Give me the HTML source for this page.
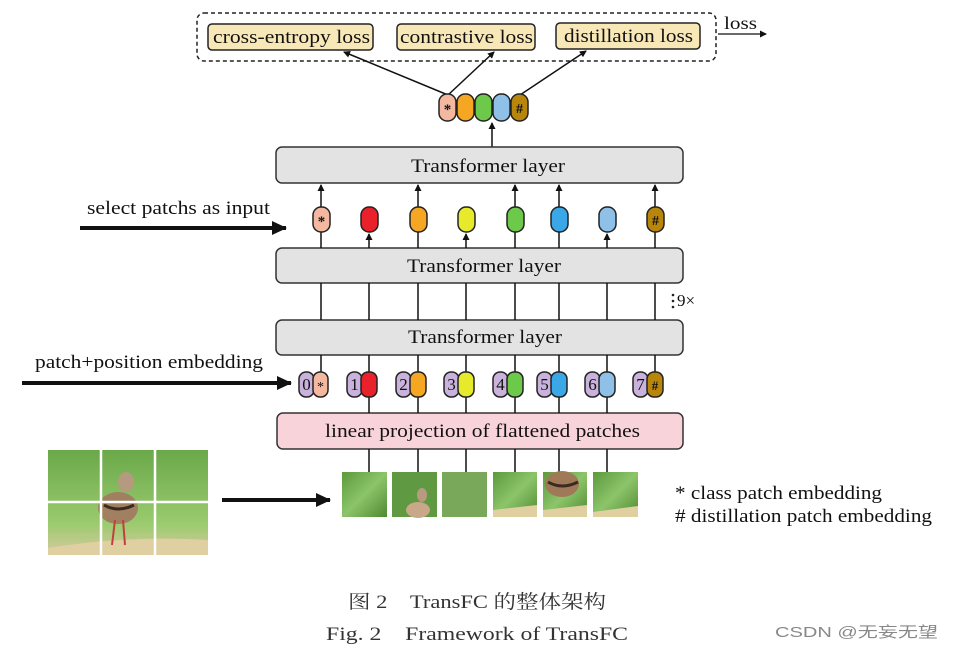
<!DOCTYPE html>
<html><head><meta charset="utf-8"><style>
body{margin:0;background:#fff;}
svg{display:block;}
text{font-family:"Liberation Serif","Noto Serif CJK SC",serif;fill:#111;}
</style></head><body>
<svg width="953" height="649" viewBox="0 0 953 649" xmlns="http://www.w3.org/2000/svg">
<defs>
<marker id="as" markerWidth="7" markerHeight="7" refX="6" refY="3.5" orient="auto" markerUnits="userSpaceOnUse"><path d="M0,0 L7,3.5 L0,7 z" fill="#111"/></marker>
<marker id="ab" markerWidth="16" markerHeight="14" refX="14" refY="7" orient="auto" markerUnits="userSpaceOnUse"><path d="M0,0 L15,7 L0,14 z" fill="#111"/></marker>
<linearGradient id="g1" x1="0" y1="0" x2="1" y2="1"><stop offset="0" stop-color="#5c9a3c"/><stop offset="0.5" stop-color="#8cc46a"/><stop offset="1" stop-color="#4f8a30"/></linearGradient>
<linearGradient id="g2" x1="0" y1="0" x2="0" y2="1"><stop offset="0" stop-color="#6aa84a"/><stop offset="0.7" stop-color="#9acb6e"/><stop offset="1" stop-color="#d9c9a0"/></linearGradient>
</defs>

<rect x="197" y="13" width="519" height="48" rx="7" fill="none" stroke="#222" stroke-width="1.5" stroke-dasharray="4,3"/>
<g stroke="#222" stroke-width="1.5" fill="#f8e8b8">
<rect x="208" y="24" width="165" height="26" rx="4"/>
<rect x="397" y="24" width="138" height="26" rx="4"/>
<rect x="556" y="23" width="144" height="26" rx="4"/>
</g>
<text x="213" y="43" font-size="19" textLength="157" lengthAdjust="spacingAndGlyphs">cross-entropy loss</text>
<text x="400" y="43" font-size="19" textLength="133" lengthAdjust="spacingAndGlyphs">contrastive loss</text>
<text x="564" y="42" font-size="19" textLength="129" lengthAdjust="spacingAndGlyphs">distillation loss</text>
<text x="724" y="29" font-size="18" textLength="33" lengthAdjust="spacingAndGlyphs">loss</text>
<line x1="718" y1="34" x2="766" y2="34" stroke="#111" stroke-width="1.3" marker-end="url(#as)"/>

<g stroke="#111" stroke-width="1.5">
<line x1="448" y1="95" x2="344" y2="52" marker-end="url(#as)"/>
<line x1="448" y1="95" x2="494" y2="52" marker-end="url(#as)"/>
<line x1="520" y1="95" x2="586" y2="51" marker-end="url(#as)"/>
<line x1="492" y1="147" x2="492" y2="123" marker-end="url(#as)"/>
</g>
<g stroke="#222" stroke-width="1.5">
<rect x="439" y="94" width="17" height="27" rx="8" fill="#f4b8a0"/>
<rect x="457" y="94" width="17" height="27" rx="8" fill="#f5a623"/>
<rect x="475" y="94" width="17" height="27" rx="8" fill="#6cc94a"/>
<rect x="493" y="94" width="17" height="27" rx="8" fill="#8fc0e8"/>
<rect x="511" y="94" width="17" height="27" rx="8" fill="#b8860b"/>
</g>
<text x="447.5" y="114" font-size="15" text-anchor="middle" font-weight="bold">*</text>
<text x="519.5" y="113" font-size="14" text-anchor="middle" font-weight="bold">#</text>

<g stroke="#333" stroke-width="1.5" fill="#e3e3e3">
<rect x="276" y="147" width="407" height="36" rx="6"/>
<rect x="276" y="248" width="407" height="35" rx="6"/>
<rect x="276" y="320" width="407" height="35" rx="6"/>
<rect x="277" y="413" width="406" height="36" rx="6" fill="#f8d3da"/>
</g>
<text x="411" y="172" font-size="19" textLength="154" lengthAdjust="spacingAndGlyphs">Transformer layer</text>
<text x="407" y="272" font-size="19" textLength="154" lengthAdjust="spacingAndGlyphs">Transformer layer</text>
<text x="408" y="343" font-size="19" textLength="154" lengthAdjust="spacingAndGlyphs">Transformer layer</text>
<text x="325" y="437" font-size="19" textLength="315" lengthAdjust="spacingAndGlyphs">linear projection of flattened patches</text>

<g stroke="#111" stroke-width="1.5">
<line x1="321" y1="283" x2="321" y2="320"/><line x1="369" y1="283" x2="369" y2="320"/>
<line x1="418" y1="283" x2="418" y2="320"/><line x1="466" y1="283" x2="466" y2="320"/>
<line x1="515" y1="283" x2="515" y2="320"/><line x1="559" y1="283" x2="559" y2="320"/>
<line x1="607" y1="283" x2="607" y2="320"/><line x1="655" y1="283" x2="655" y2="320"/>
<line x1="321" y1="355" x2="321" y2="372"/><line x1="369" y1="355" x2="369" y2="372"/>
<line x1="418" y1="355" x2="418" y2="372"/><line x1="466" y1="355" x2="466" y2="372"/>
<line x1="515" y1="355" x2="515" y2="372"/><line x1="559" y1="355" x2="559" y2="372"/>
<line x1="607" y1="355" x2="607" y2="372"/><line x1="655" y1="355" x2="655" y2="372"/>
<line x1="369" y1="397" x2="369" y2="413"/><line x1="418" y1="397" x2="418" y2="413"/>
<line x1="466" y1="397" x2="466" y2="413"/><line x1="515" y1="397" x2="515" y2="413"/>
<line x1="559" y1="397" x2="559" y2="413"/><line x1="607" y1="397" x2="607" y2="413"/>
<line x1="369" y1="449" x2="369" y2="472"/><line x1="418" y1="449" x2="418" y2="472"/>
<line x1="466" y1="449" x2="466" y2="472"/><line x1="515" y1="449" x2="515" y2="472"/>
<line x1="559" y1="449" x2="559" y2="472"/><line x1="607" y1="449" x2="607" y2="472"/>
<line x1="321" y1="248" x2="321" y2="232"/><line x1="321" y1="207" x2="321" y2="185" marker-end="url(#as)"/>
<line x1="369" y1="248" x2="369" y2="234" marker-end="url(#as)"/>
<line x1="418" y1="248" x2="418" y2="232"/><line x1="418" y1="207" x2="418" y2="185" marker-end="url(#as)"/>
<line x1="466" y1="248" x2="466" y2="234" marker-end="url(#as)"/>
<line x1="515" y1="248" x2="515" y2="232"/><line x1="515" y1="207" x2="515" y2="185" marker-end="url(#as)"/>
<line x1="559" y1="248" x2="559" y2="232"/><line x1="559" y1="207" x2="559" y2="185" marker-end="url(#as)"/>
<line x1="607" y1="248" x2="607" y2="234" marker-end="url(#as)"/>
<line x1="655" y1="248" x2="655" y2="232"/><line x1="655" y1="207" x2="655" y2="185" marker-end="url(#as)"/>
</g>

<g stroke="#222" stroke-width="1.5">
<rect x="313" y="207" width="17" height="25" rx="8" fill="#f4b8a0"/>
<rect x="361" y="207" width="17" height="25" rx="8" fill="#e8212a"/>
<rect x="410" y="207" width="17" height="25" rx="8" fill="#f5a623"/>
<rect x="458" y="207" width="17" height="25" rx="8" fill="#e6ea2a"/>
<rect x="507" y="207" width="17" height="25" rx="8" fill="#6cc94a"/>
<rect x="551" y="207" width="17" height="25" rx="8" fill="#3aa8e6"/>
<rect x="599" y="207" width="17" height="25" rx="8" fill="#8fc0e8"/>
<rect x="647" y="207" width="17" height="25" rx="8" fill="#b8860b"/>
</g>
<text x="321.5" y="226" font-size="15" text-anchor="middle" font-weight="bold">*</text>
<text x="655.5" y="225" font-size="14" text-anchor="middle" font-weight="bold">#</text>

<g fill="#222"><circle cx="673" cy="295" r="1.3"/><circle cx="673" cy="301" r="1.3"/><circle cx="673" cy="307" r="1.3"/></g>
<text x="677" y="306" font-size="17">9×</text>

<g stroke="#222" stroke-width="1.5">
<rect x="299" y="372" width="15" height="25" rx="7" fill="#c9b3dc"/><rect x="313" y="372" width="15" height="25" rx="7" fill="#f4b8a0"/>
<rect x="347" y="372" width="15" height="25" rx="7" fill="#c9b3dc"/><rect x="361" y="372" width="16" height="25" rx="7" fill="#e8212a"/>
<rect x="396" y="372" width="15" height="25" rx="7" fill="#c9b3dc"/><rect x="410" y="372" width="16" height="25" rx="7" fill="#f5a623"/>
<rect x="444" y="372" width="15" height="25" rx="7" fill="#c9b3dc"/><rect x="458" y="372" width="16" height="25" rx="7" fill="#e6ea2a"/>
<rect x="493" y="372" width="15" height="25" rx="7" fill="#c9b3dc"/><rect x="507" y="372" width="16" height="25" rx="7" fill="#6cc94a"/>
<rect x="537" y="372" width="15" height="25" rx="7" fill="#c9b3dc"/><rect x="551" y="372" width="16" height="25" rx="7" fill="#3aa8e6"/>
<rect x="585" y="372" width="15" height="25" rx="7" fill="#c9b3dc"/><rect x="599" y="372" width="16" height="25" rx="7" fill="#8fc0e8"/>
<rect x="633" y="372" width="15" height="25" rx="7" fill="#c9b3dc"/><rect x="647" y="372" width="16" height="25" rx="7" fill="#b8860b"/>
</g>
<g font-size="17" text-anchor="middle">
<text x="306.5" y="390">0</text><text x="354.5" y="390">1</text><text x="403.5" y="390">2</text><text x="451.5" y="390">3</text>
<text x="500.5" y="390">4</text><text x="544.5" y="390">5</text><text x="592.5" y="390">6</text><text x="640.5" y="390">7</text>
</g>
<text x="320.5" y="391" font-size="14" text-anchor="middle">*</text>
<text x="655" y="390" font-size="13" text-anchor="middle" font-weight="bold">#</text>

<text x="87" y="214" font-size="19" textLength="183" lengthAdjust="spacingAndGlyphs">select patchs as input</text>
<line x1="80" y1="228" x2="286" y2="228" stroke="#111" stroke-width="4" marker-end="url(#ab)"/>
<text x="35" y="368" font-size="19" textLength="228" lengthAdjust="spacingAndGlyphs">patch+position embedding</text>
<line x1="22" y1="383" x2="291" y2="383" stroke="#111" stroke-width="4" marker-end="url(#ab)"/>
<line x1="222" y1="500" x2="330" y2="500" stroke="#111" stroke-width="4" marker-end="url(#ab)"/>

<rect x="48" y="450" width="160" height="105" fill="url(#g2)"/>
<path d="M48,548 Q130,535 208,540 L208,555 L48,555 z" fill="#e0cfa0"/>
<ellipse cx="118" cy="508" rx="20" ry="16" fill="#a08060"/>
<ellipse cx="126" cy="482" rx="8" ry="10" fill="#b59a80"/>
<path d="M104,505 q14,8 30,0" stroke="#3a2a20" stroke-width="3" fill="none"/>
<line x1="115" y1="520" x2="112" y2="545" stroke="#c04040" stroke-width="2"/>
<line x1="123" y1="520" x2="125" y2="545" stroke="#c04040" stroke-width="2"/>
<g stroke="#fff" stroke-width="2.5">
<line x1="101" y1="450" x2="101" y2="555"/><line x1="155" y1="450" x2="155" y2="555"/>
<line x1="48" y1="502" x2="208" y2="502"/>
</g>

<rect x="342" y="472" width="45" height="45" fill="url(#g1)"/>
<rect x="392" y="472" width="45" height="45" fill="#5f9a42"/>
<ellipse cx="418" cy="510" rx="12" ry="8" fill="#c8a888"/><ellipse cx="422" cy="495" rx="5" ry="7" fill="#b89a80"/>
<rect x="442" y="472" width="45" height="45" fill="#7aa85a"/>
<rect x="493" y="472" width="44" height="45" fill="url(#g1)"/>
<path d="M493,510 L537,505 L537,517 L493,517 z" fill="#e0cfa0"/>
<rect x="543" y="472" width="44" height="45" fill="url(#g1)"/>
<path d="M543,510 L587,505 L587,517 L543,517 z" fill="#e0cfa0"/>
<ellipse cx="562" cy="484" rx="17" ry="13" fill="#a07a58"/>
<path d="M548,482 q14,8 30,0" stroke="#3a2a20" stroke-width="3" fill="none"/>
<rect x="593" y="472" width="45" height="45" fill="url(#g1)"/>
<path d="M593,512 L638,506 L638,517 L593,517 z" fill="#e0cfa0"/>

<text x="675" y="499" font-size="19" textLength="207" lengthAdjust="spacingAndGlyphs">* class patch embedding</text>
<text x="675" y="522" font-size="19" textLength="257" lengthAdjust="spacingAndGlyphs"># distillation patch embedding</text>

<text x="348" y="608" font-size="19" textLength="258" lengthAdjust="spacingAndGlyphs" style="fill:#333">图 2　TransFC 的整体架构</text>
<text x="326" y="640" font-size="19" textLength="302" lengthAdjust="spacingAndGlyphs" style="fill:#333">Fig. 2　Framework of TransFC</text>
<text x="775" y="637" font-size="15" textLength="163" lengthAdjust="spacingAndGlyphs" style="fill:#888;font-family:'Liberation Sans','Noto Sans CJK SC',sans-serif">CSDN @无妄无望</text>
</svg>
</body></html>
